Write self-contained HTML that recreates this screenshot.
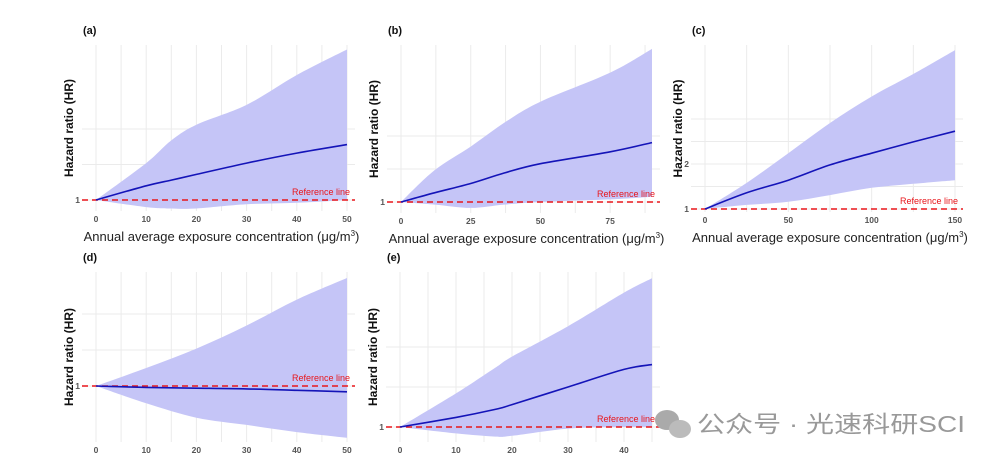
<!DOCTYPE html>
<html><head><meta charset="utf-8"><style>
body{margin:0;background:#fff;width:996px;height:463px;overflow:hidden}
svg{display:block}
text{font-family:"Liberation Sans",sans-serif}
</style></head><body>
<svg id="chart" width="996" height="463" xmlns="http://www.w3.org/2000/svg">
<g id="wm">
<ellipse cx="667" cy="420" rx="12" ry="10" fill="#aaa"/><ellipse cx="680" cy="429" rx="11" ry="9" fill="#bbb"/>
<text x="697" y="432" font-size="23" fill="#999" textLength="268" lengthAdjust="spacingAndGlyphs" style='font-family:"Liberation Sans","Noto Sans CJK SC",sans-serif'>公众号 · 光速科研SCI</text>
</g>
</svg>
<script>
// ---- data ----
const xA=[0,10,15,20,30,40,50];
const upA=[1,1.26,1.42,1.53,1.67,1.88,2.06];
const meanA=[1,1.1,1.14,1.18,1.26,1.33,1.39];
const loA=[1,0.95,0.94,0.94,0.97,0.98,1.0];
const xB=[0,12,25,37,50,75,90];
const upB=[1,1.24,1.42,1.6,1.76,1.98,2.16];
const meanB=[1,1.07,1.14,1.22,1.29,1.38,1.45];
const loB=[1,0.98,0.955,0.98,1.0,1.02,1.04];
const xC=[0,25,50,75,100,125,150];
const upC=[1,1.58,2.24,2.91,3.5,4.0,4.53];
const meanC=[1,1.36,1.64,1.98,2.24,2.49,2.73];
const loC=[1,1.09,1.16,1.31,1.47,1.56,1.64];
const xD=[0,10,20,30,40,50];
const upD=[1,1.125,1.26,1.42,1.6,1.75];
const meanD=[1,0.99,0.985,0.98,0.97,0.96];
const loD=[1,0.88,0.78,0.73,0.68,0.64];
const xE=[0,10,17,20,30,40,45];
const upE=[1,1.21,1.37,1.44,1.63,1.84,1.93];
const meanE=[1,1.06,1.11,1.14,1.25,1.36,1.39];
const loE=[1,0.96,0.94,0.945,0.99,1.0,1.0];
const ticksAB=[0,10,20,30,40,50];
const ticksB=[0,25,50,75];
const ticksC=[0,50,100,150];
const ticksE=[0,10,20,30,40];
// ---- layout ----
const panels=[
 {id:'a',lab:'(a)',X:xA,U:upA,M:meanA,L:loA,T:ticksAB,xmax:50,minor:5,px0:96,px1:347,y1:200,k:142,top:45,bot:211,yt:[[1,'1']],yg:[1.25,1.5],title:true},
 {id:'b',lab:'(b)',X:xB,U:upB,M:meanB,L:loB,T:ticksB,xmax:90,minor:12.5,px0:401,px1:652,y1:202,k:132,top:45,bot:213,yt:[[1,'1']],yg:[1.25,1.5],title:true},
 {id:'c',lab:'(c)',X:xC,U:upC,M:meanC,L:loC,T:ticksC,xmax:150,minor:25,px0:705,px1:955,y1:209,k:45,top:45,bot:212,yt:[[1,'1'],[2,'2']],yg:[1.5,2.5,3],title:true},
 {id:'d',lab:'(d)',X:xD,U:upD,M:meanD,L:loD,T:ticksAB,xmax:50,minor:5,px0:96,px1:347,y1:386,k:144,top:272,bot:442,yt:[[1,'1']],yg:[1.25,1.5],title:false},
 {id:'e',lab:'(e)',X:xE,U:upE,M:meanE,L:loE,T:ticksE,xmax:45,minor:5,px0:400,px1:652,y1:427,k:160,top:272,bot:442,yt:[[1,'1']],yg:[1.25,1.5],title:false}
];
const NS='http://www.w3.org/2000/svg';
const svg=document.getElementById('chart');
function mk(t,a,p){const e=document.createElementNS(NS,t);for(const k in a)e.setAttribute(k,a[k]);(p||svg).appendChild(e);return e;}
function smooth(pts,start){ // catmull-rom -> bezier
 let d=(start?'M':'L')+pts[0][0].toFixed(1)+','+pts[0][1].toFixed(1);
 for(let i=0;i<pts.length-1;i++){
  const p0=pts[Math.max(0,i-1)],p1=pts[i],p2=pts[i+1],p3=pts[Math.min(pts.length-1,i+2)];
  const c1=[p1[0]+(p2[0]-p0[0])/6,p1[1]+(p2[1]-p0[1])/6];
  const c2=[p2[0]-(p3[0]-p1[0])/6,p2[1]-(p3[1]-p1[1])/6];
  d+='C'+c1.map(v=>v.toFixed(1)).join(',')+' '+c2.map(v=>v.toFixed(1)).join(',')+' '+p2.map(v=>v.toFixed(1)).join(',');
 }
 return d;
}
panels.forEach(p=>{
 const g=mk('g',{});
 
 
 svg.insertBefore(g,document.getElementById('wm'));
 const xs=v=>p.px0+(p.px1-p.px0)*v/p.xmax;
 const ys=v=>p.y1-(v-1)*p.k;
 const left=p.px0-14,right=p.px1+8;
 for(let v=0;v<=p.xmax+p.minor*0.5+0.01;v+=p.minor){const x=xs(v);if(x>right)break;
  mk('line',{x1:x,x2:x,y1:p.top,y2:p.bot,stroke:'#ebebeb','stroke-width':1},g);}
 p.yg.concat(p.yt.map(t=>t[0])).forEach(v=>{const y=ys(v);if(y>p.top)mk('line',{x1:left,x2:right,y1:y,y2:y,stroke:'#ebebeb','stroke-width':1},g);});
 const up=p.X.map((x,i)=>[xs(x),ys(p.U[i])]);
 const lo=p.X.map((x,i)=>[xs(x),ys(p.L[i])]).reverse();
 const rib=mk('path',{d:smooth(up,true)+smooth(lo,false)+'Z',fill:'#c5c5f7'},g);
 
 
 const rl=mk('line',{x1:left,x2:right,y1:ys(1),y2:ys(1),stroke:'#e8161b','stroke-width':1.6,'stroke-dasharray':'6,4'},g);
 
 
 const rt=mk('text',{x:p.px1+3,y:ys(1)-5,'font-size':9,fill:'#e8161b','text-anchor':'end'},g);rt.textContent='Reference line';
 
 
 const mp=p.X.map((x,i)=>[xs(x),ys(p.M[i])]);
 const ml=mk('path',{d:smooth(mp,true),fill:'none',stroke:'#1414b8','stroke-width':1.6},g);
 
 
 p.T.forEach(v=>{const t=mk('text',{x:xs(v),y:p.bot+11,'font-size':8.5,'font-weight':'bold',fill:'#555','text-anchor':'middle'},g);t.textContent=v;
  
  });
 p.yt.forEach(tk=>{const t=mk('text',{x:p.px0-16,y:ys(tk[0])+3,'font-size':8.5,'font-weight':'bold',fill:'#555','text-anchor':'end'},g);t.textContent=tk[1];
  
  });
 const lb=mk('text',{x:p.px0-13,y:p.top-11,'font-size':11,'font-weight':'bold',fill:'#111'},g);lb.textContent=p.lab;
 
 
 const cy=(p.top+p.bot)/2;
 const yt=mk('text',{x:p.px0-23,y:cy,'font-size':12,'font-weight':'bold',fill:'#111','text-anchor':'middle',transform:`rotate(-90 ${p.px0-23} ${cy})`},g);yt.textContent='Hazard ratio (HR)';
 
 
 if(p.title){const xt=mk('text',{x:(p.px0+p.px1)/2,y:p.bot+30,'font-size':13,fill:'#222','text-anchor':'middle'},g);
  xt.innerHTML='Annual average exposure concentration (μg/m<tspan dy="-5" font-size="8">3</tspan><tspan dy="5">)</tspan>';
  
  }
});
</script>
</body></html>
